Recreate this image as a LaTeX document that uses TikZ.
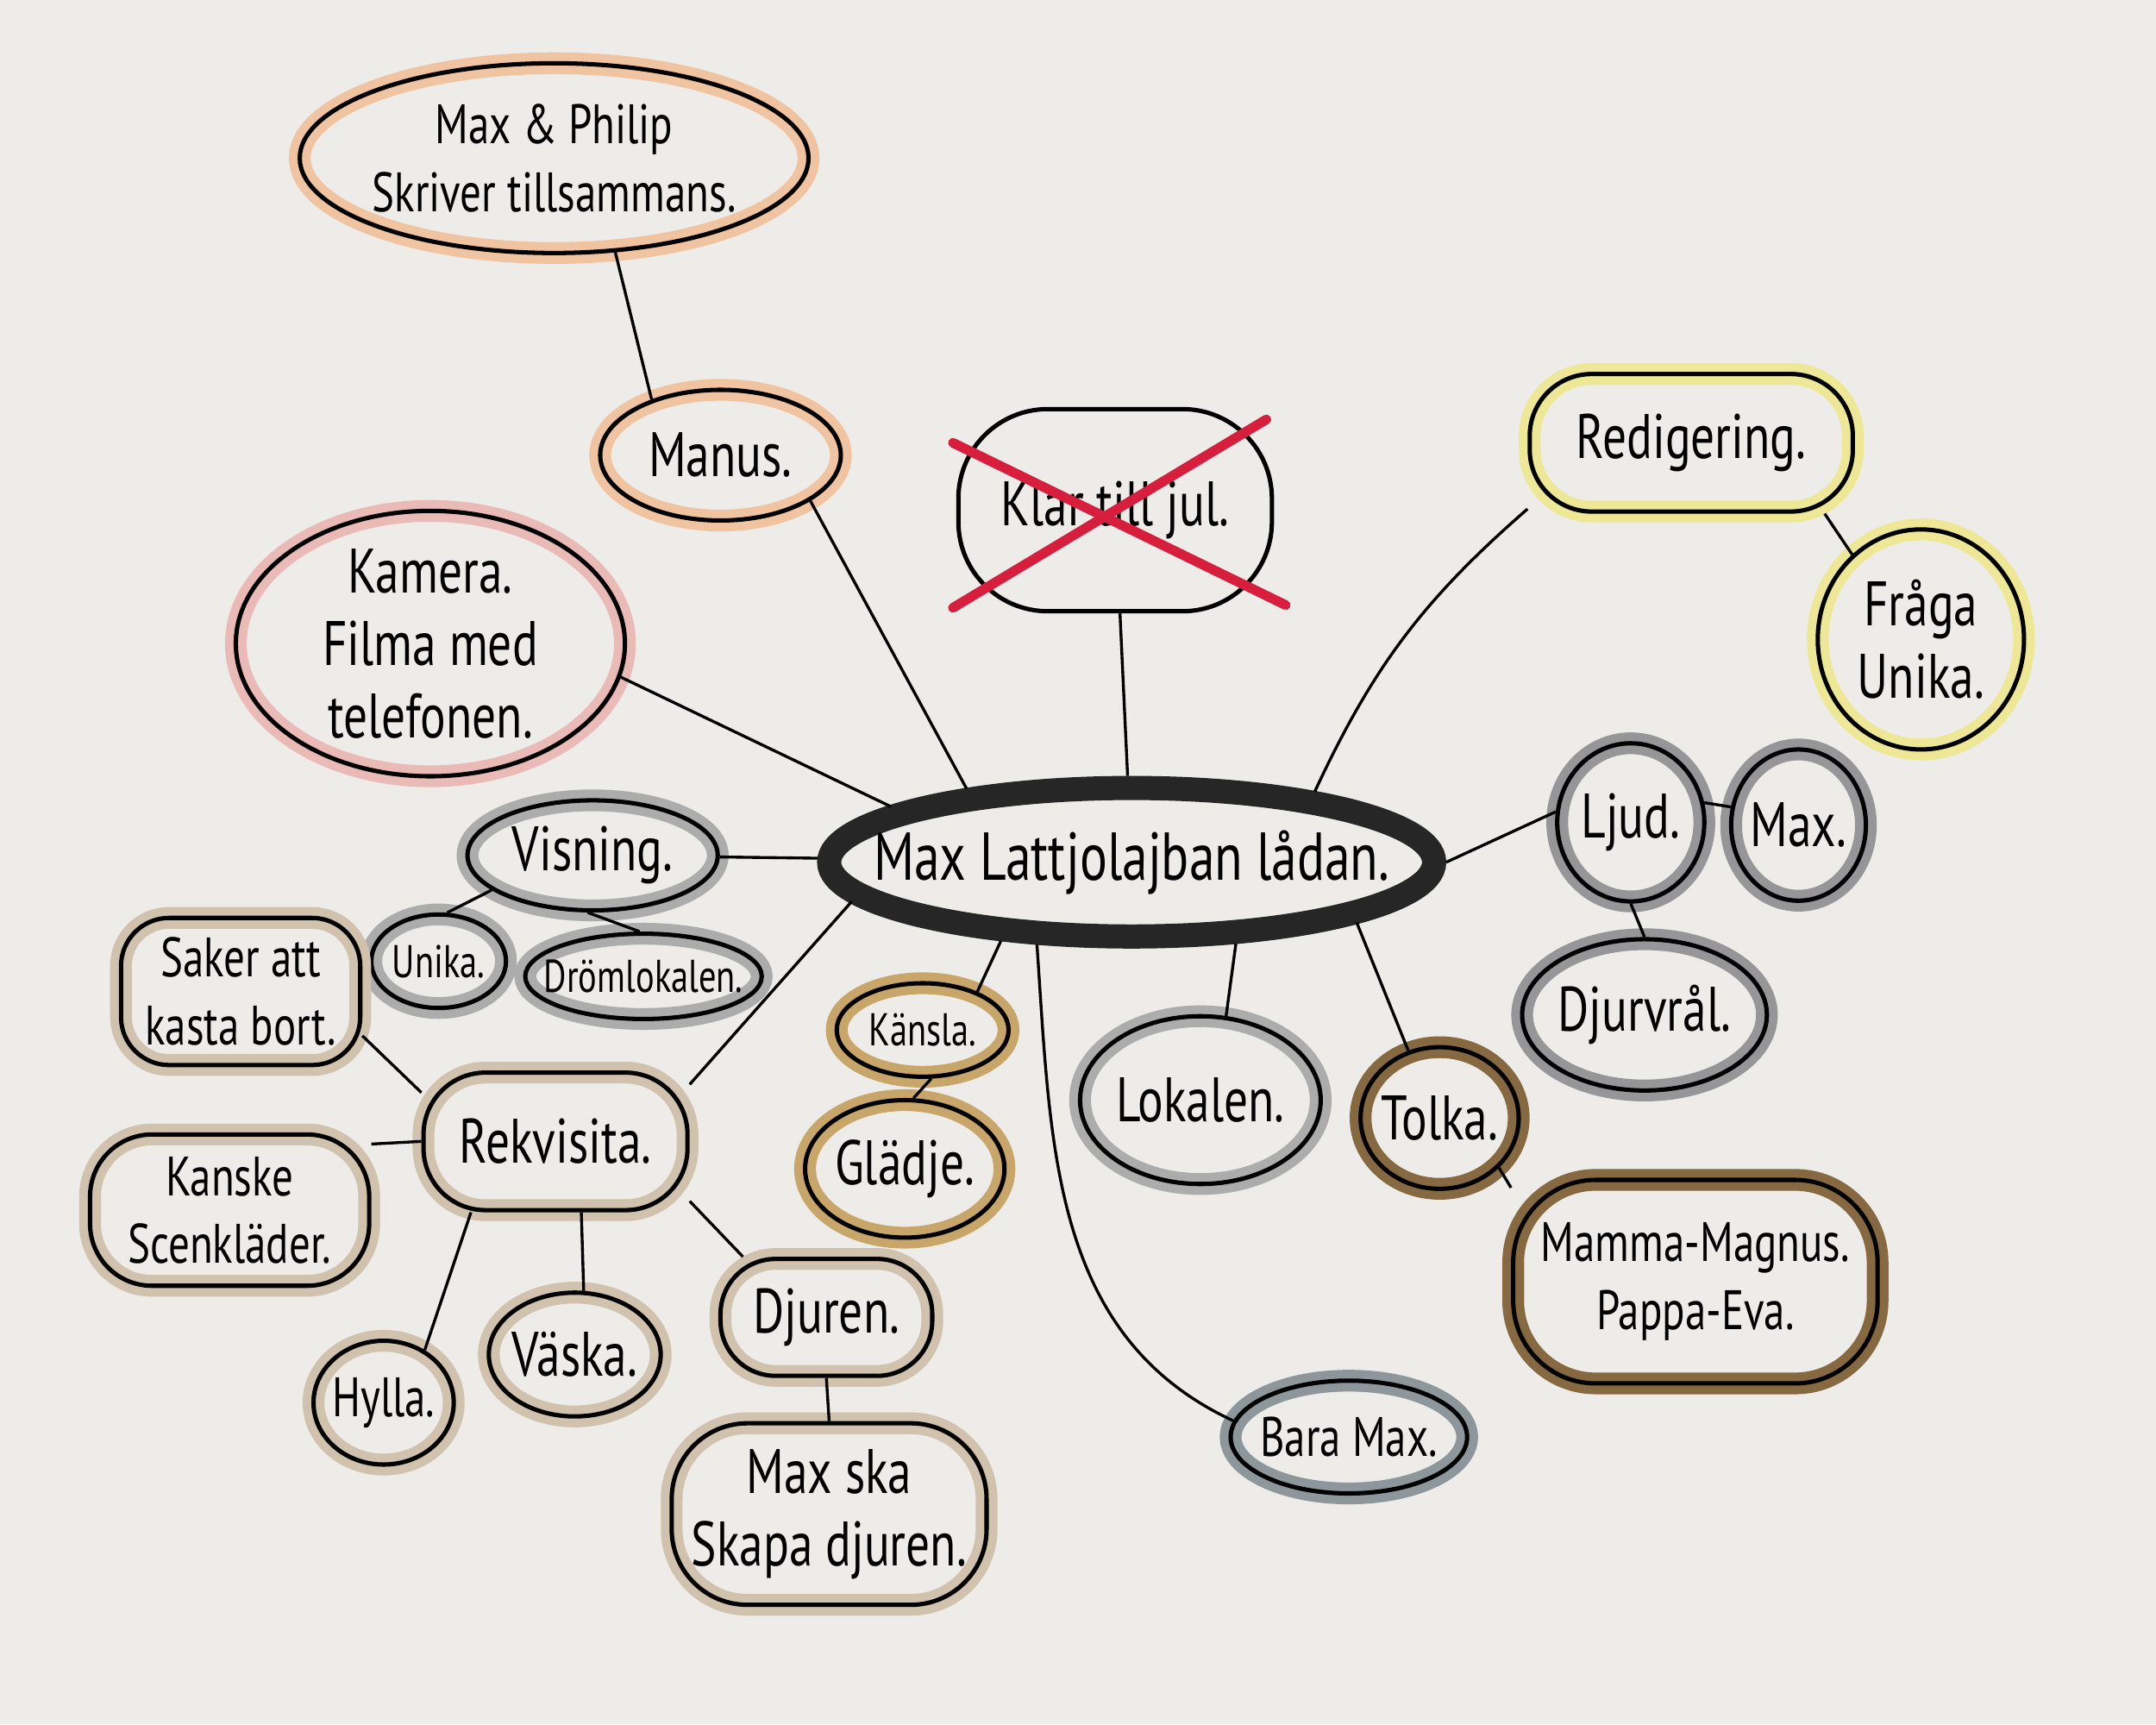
\documentclass[tikz,border=0pt]{standalone}
\usepackage{fontspec}
\setmainfont{PT Sans}
\usetikzlibrary{shapes.geometric}
\definecolor{paper}{RGB}{237,236,233}
\definecolor{peach}{RGB}{240,196,160}
\definecolor{lemon}{RGB}{238,232,150}
\definecolor{rose}{RGB}{234,186,182}
\definecolor{stone}{RGB}{172,172,172}
\definecolor{slate}{RGB}{150,150,152}
\definecolor{taupe}{RGB}{208,194,172}
\definecolor{ochre}{RGB}{200,165,105}
\definecolor{umber}{RGB}{135,105,65}
\definecolor{steel}{RGB}{140,150,155}
\definecolor{redpen}{RGB}{215,30,60}

\begin{document}
\begin{tikzpicture}[
    wash/.style={draw=black, line width=.9pt, preaction={draw=#1, line width=4.5pt}},
    blob/.style={ellipse, inner sep=0pt},
    box/.style={rectangle, rounded corners=#1, inner sep=0pt},
    box/.default=.4cm,
    hand/.style={font=\fontsize{13}{15}\selectfont, align=center, xscale=.76, transform shape},
    smallhand/.style={hand, font=\fontsize{9.5}{12}\selectfont},
    midhand/.style={hand, font=\fontsize{11.5}{14}\selectfont},
    link/.style={line width=.6pt},
    strike/.style={redpen, line width=2pt, line cap=round}]
  \useasboundingbox[fill=paper] (0,0) rectangle (15.68,-12.54);

  \node[blob, draw=black!85, line width=5pt, minimum width=4.4cm, minimum height=1.08cm,
    label={[hand, font=\fontsize{14}{16}\selectfont]center:Max Lattjolajban lådan.}] (ctr) at (8.23,-6.27) {};

  \node[blob, wash=peach, minimum width=3.7cm, minimum height=1.38cm,
    label={[midhand]center:{Max \& Philip\\Skriver tillsammans.}}] (philip) at (4.03,-1.15) {};
  \node[blob, wash=peach, minimum width=1.75cm, minimum height=.95cm,
    label={[hand]center:Manus.}] (manus) at (5.24,-3.31) {};
  \node[box=.65cm, draw, line width=.9pt, minimum width=2.28cm, minimum height=1.47cm,
    label={[hand]center:Klar till jul.}] (klar) at (8.11,-3.71) {};
  \node[box=.45cm, wash=lemon, minimum width=2.35cm, minimum height=1cm,
    label={[hand]center:Redigering.}] (redig) at (12.30,-3.22) {};
  \node[blob, wash=lemon, minimum width=1.5cm, minimum height=1.6cm,
    label={[hand]center:{Fråga\\Unika.}}] (fraga) at (13.97,-4.65) {};
  \node[blob, wash=rose, minimum width=2.83cm, minimum height=1.93cm,
    label={[hand]center:{Kamera.\\Filma med\\telefonen.}}] (kamera) at (3.13,-4.68) {};

  \node[blob, wash=stone, minimum width=1.82cm, minimum height=.8cm,
    label={[hand]center:Visning.}] (visning) at (4.31,-6.22) {};
  \node[blob, wash=stone, minimum width=.98cm, minimum height=.68cm,
    label={[smallhand]center:Unika.}] (unika) at (3.19,-6.99) {};
  \node[blob, wash=stone, minimum width=1.72cm, minimum height=.62cm,
    label={[smallhand]center:Drömlokalen.}] (drom) at (4.68,-7.10) {};

  \node[box=.35cm, wash=taupe, minimum width=1.74cm, minimum height=1.07cm,
    label={[midhand]center:{Saker att\\kasta bort.}}] (saker) at (1.75,-7.21) {};
  \node[box=.45cm, wash=taupe, minimum width=1.92cm, minimum height=1cm,
    label={[hand]center:Rekvisita.}] (rek) at (4.04,-8.30) {};
  \node[box=.45cm, wash=taupe, minimum width=2.03cm, minimum height=1.1cm,
    label={[midhand]center:{Kanske\\Scenkläder.}}] (kanske) at (1.67,-8.80) {};
  \node[blob, wash=taupe, minimum width=1.02cm, minimum height=.9cm,
    label={[midhand]center:Hylla.}] (hylla) at (2.79,-10.20) {};
  \node[blob, wash=taupe, minimum width=1.25cm, minimum height=.9cm,
    label={[hand]center:Väska.}] (vaska) at (4.18,-9.85) {};
  \node[box, wash=taupe, minimum width=1.54cm, minimum height=.85cm,
    label={[hand]center:Djuren.}] (djuren) at (6.01,-9.58) {};
  \node[box=.55cm, wash=taupe, minimum width=2.29cm, minimum height=1.32cm,
    label={[hand]center:{Max ska\\Skapa djuren.}}] (maxska) at (6.03,-11.01) {};

  \node[blob, wash=ochre, minimum width=1.25cm, minimum height=.68cm,
    label={[smallhand]center:Känsla.}] (kansla) at (6.71,-7.49) {};
  \node[blob, wash=ochre, minimum width=1.45cm, minimum height=1cm,
    label={[hand]center:Glädje.}] (gladje) at (6.58,-8.50) {};
  \node[blob, wash=stone, minimum width=1.75cm, minimum height=1.22cm,
    label={[hand]center:Lokalen.}] (lokalen) at (8.73,-8.00) {};
  \node[blob, wash=umber, minimum width=1.15cm, minimum height=1.03cm,
    label={[hand]center:Tolka.}] (tolka) at (10.47,-8.13) {};
  \node[box=.6cm, wash=umber, minimum width=2.65cm, minimum height=1.48cm,
    label={[midhand]center:{Mamma-Magnus.\\Pappa-Eva.}}] (mamma) at (12.33,-9.32) {};
  \node[blob, wash=steel, minimum width=1.72cm, minimum height=.82cm,
    label={[midhand]center:Bara Max.}] (bara) at (9.81,-10.45) {};

  \node[blob, wash=slate, minimum width=1.07cm, minimum height=1.15cm,
    label={[hand]center:Ljud.}] (ljud) at (11.86,-5.98) {};
  \node[blob, wash=slate, minimum width=.98cm, minimum height=1.1cm,
    label={[hand]center:Max.}] (maxn) at (13.08,-6.00) {};
  \node[blob, wash=slate, minimum width=1.78cm, minimum height=1.1cm,
    label={[hand]center:Djurvrål.}] (djurvral) at (11.96,-7.38) {};

  \draw[strike] ([shift={(-1.18,.49)}]klar.center) -- ([shift={(1.24,-.69)}]klar.center);
  \draw[strike] ([shift={(-1.18,-.71)}]klar.center) -- ([shift={(1.10,.66)}]klar.center);

  \draw[link] (philip.-57) -- (manus.141); \draw[link] (manus.-27) -- (ctr.156);
  \draw[link] (klar) -- (ctr);
  \draw[link] (ctr.21) to[bend left=12] (redig.202); \draw[link] (redig.-28) -- (fraga.129);
  \draw[link] (kamera.-10) -- (ctr.167);
  \draw[link] (visning) -- (ctr);
  \draw[link] (visning.199) -- (unika.80); \draw[link] (visning.265) -- (drom.95);
  \draw[link] (ctr.188) -- (rek.23);
  \draw[link] (saker.-20) -- (rek.160); \draw[link] (rek.west) -- (kanske.25);
  \draw[link] (rek.220) -- (hylla.52); \draw[link] (rek.-70) -- (vaska.82);
  \draw[link] (rek.-24) -- (djuren.144); \draw[link] (djuren.south) -- (maxska.north);
  \draw[link] (ctr.211) -- (kansla.35); \draw[link] (kansla.-80) -- (gladje.83);
  \draw[link] (ctr.-38) -- (lokalen.73);
  \draw[link] (ctr.-15) -- (tolka.115); \draw[link] (tolka.-40) -- (mamma.153);
  \draw[link] (ctr.221) to[out=-86,in=155] (bara.172);
  \draw[link] (ctr.east) -- (ljud.172);
  \draw[link] (ljud.15) -- (maxn.165); \draw[link] (ljud.south) -- (djurvral.north);
\end{tikzpicture}
\end{document}
